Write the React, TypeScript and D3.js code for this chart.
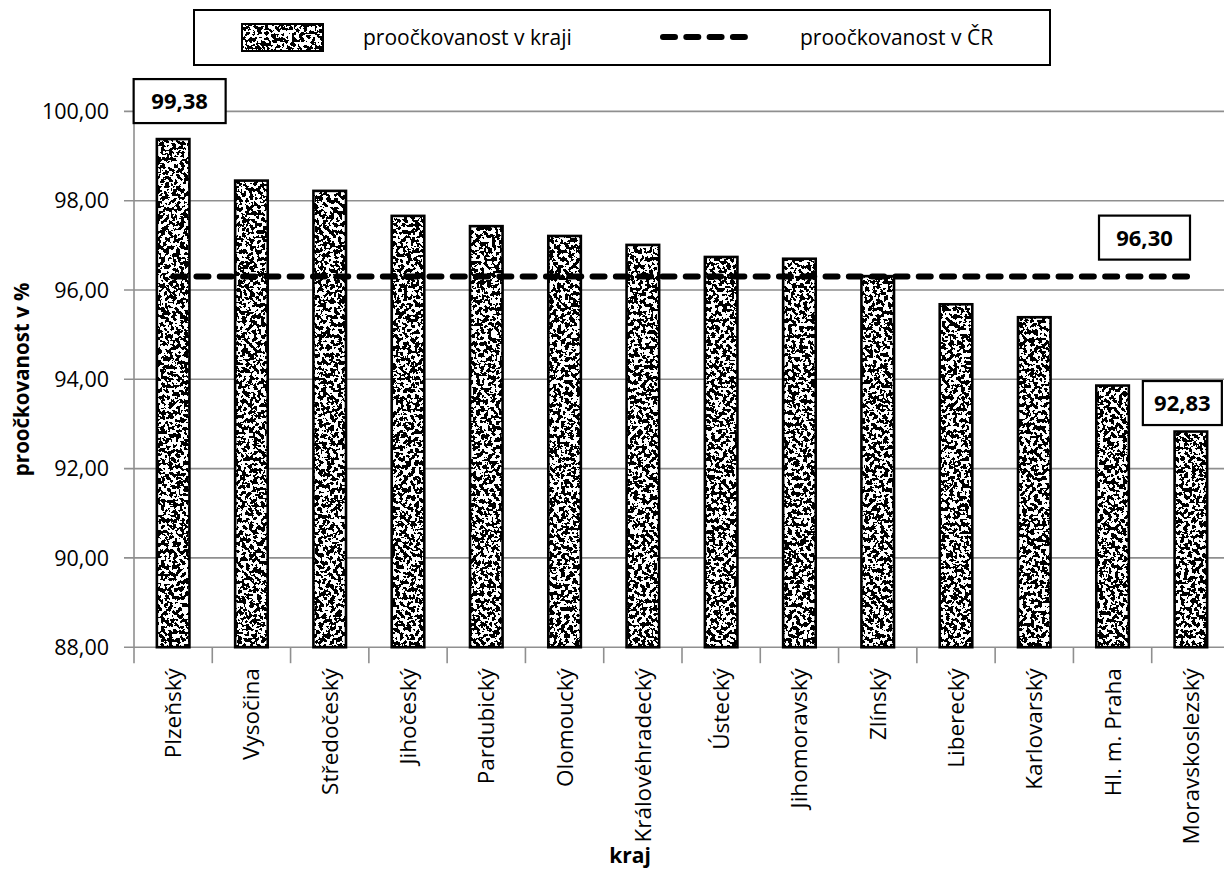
import React from "react";
import * as d3 from "d3";

const categories = [
  "Plzeňský", "Vysočina", "Středočeský", "Jihočeský", "Pardubický", "Olomoucký",
  "Královéhradecký", "Ústecký", "Jihomoravský", "Zlínský", "Liberecký",
  "Karlovarský", "Hl. m. Praha", "Moravskoslezský",
];
const regionValues = [99.38, 98.45, 98.22, 97.66, 97.43, 97.21, 97.01, 96.74, 96.7, 96.31, 95.68, 95.39, 93.86, 92.83];
const nationalValue = 96.3;
const yTicks = [88, 90, 92, 94, 96, 98, 100];
const legendLabels = ["proočkovanost v kraji", "proočkovanost v ČR"];
const yTitle = "proočkovanost v %";
const xTitle = "kraj";

const W = 1224, H = 870;
const left = 134, right = 1230, top = 111.4, bottom = 647.2;
const FONT = "'Open Sans', 'Noto Sans', sans-serif";
const fmt = (v: number) => d3.format(".2f")(v).replace(".", ",");

export default function App() {
  const x = d3.scaleBand<string>().domain(categories).range([left, right]).paddingInner(0.584).paddingOuter(0.292);
  const y = d3.scaleLinear().domain([88, 100]).range([bottom, top]);
  const step = x.step();
  const bw = x.bandwidth();
  const grid = "#8f8f8f";
  const first = categories[0];
  const last = categories[categories.length - 1];
  const cx = (c: string) => (x(c) as number) + bw / 2;

  const boxes = [
    { label: fmt(regionValues[0]), cx: cx(first) + 6.5, bottomY: y(regionValues[0]) - 16, w: 92 },
    { label: fmt(nationalValue), cx: 1144.5, bottomY: y(nationalValue) - 17, w: 91 },
    { label: fmt(regionValues[regionValues.length - 1]), cx: cx(last) - 8.5, bottomY: y(regionValues[regionValues.length - 1]) - 6.5, w: 79 },
  ];

  return (
    <svg width={W} height={H} style={{ position: "absolute", left: 0, top: 0, background: "#fff" }} fontFamily={FONT}>
      <defs>
        <filter id="speckle" x="0" y="0" width="1" height="1" filterUnits="objectBoundingBox" colorInterpolationFilters="sRGB">
          <feTurbulence type="fractalNoise" baseFrequency="0.26" numOctaves="2" seed="7" result="noise" />
          <feColorMatrix in="noise" type="matrix" values="1 0 0 0 0  1 0 0 0 0  1 0 0 0 0  0 0 0 0 1" result="gray" />
          <feComponentTransfer in="gray" result="bw">
            <feFuncR type="discrete" tableValues="0 1" />
            <feFuncG type="discrete" tableValues="0 1" />
            <feFuncB type="discrete" tableValues="0 1" />
          </feComponentTransfer>
          <feComposite in="bw" in2="SourceGraphic" operator="in" />
        </filter>
      </defs>

      {/* legend */}
      <rect x={194} y={10} width={856} height={55} fill="#fff" stroke="#000" strokeWidth={2} />
      <rect x={242} y={24} width={81} height={27} fill="#fff" filter="url(#speckle)" />
      <rect x={242} y={24} width={81} height={27} fill="none" stroke="#000" strokeWidth={2} />
      <text x={363} y={45} fontSize={21}>{legendLabels[0]}</text>
      <line x1={663} x2={745} y1={37} y2={37} stroke="#000" strokeWidth={6} strokeDasharray="12 11.3" strokeLinecap="round" />
      <text x={800} y={45} fontSize={21}>{legendLabels[1]}</text>

      {/* gridlines */}
      {yTicks.map((t) => (
        <g key={t}>
          <line x1={left - 10} x2={right} y1={y(t)} y2={y(t)} stroke={grid} strokeWidth={1.6} />
          <text x={109} y={y(t)} dy="0.36em" textAnchor="end" fontSize={21.5}>{fmt(t)}</text>
        </g>
      ))}
      <line x1={left} x2={left} y1={top} y2={bottom + 16} stroke={grid} strokeWidth={1.6} />
      {categories.map((c, i) => (
        <line key={c} x1={left + (i + 1) * step} x2={left + (i + 1) * step} y1={bottom} y2={bottom + 16} stroke={grid} strokeWidth={1.6} />
      ))}

      {/* bars */}
      {categories.map((c, i) => {
        const v = regionValues[i];
        const bx = x(c) as number;
        return (
          <g key={c}>
            <rect x={bx} y={y(v)} width={bw} height={y(88) - y(v)} fill="#fff" filter="url(#speckle)" />
            <rect x={bx} y={y(v)} width={bw} height={y(88) - y(v)} fill="none" stroke="#000" strokeWidth={2.6} />
          </g>
        );
      })}

      {/* national line */}
      <line x1={cx(first)} x2={cx(last)} y1={y(nationalValue)} y2={y(nationalValue)} stroke="#000" strokeWidth={6} strokeDasharray="12 11.3" strokeLinecap="round" />

      {/* value boxes */}
      {boxes.map((b) => (
        <g key={b.label}>
          <rect x={b.cx - b.w / 2} y={b.bottomY - 44} width={b.w} height={44} fill="#fff" stroke="#000" strokeWidth={2.2} />
          <text x={b.cx} y={b.bottomY - 22} dy="0.36em" textAnchor="middle" fontSize={22} fontWeight="bold">{b.label}</text>
        </g>
      ))}

      {/* x labels */}
      {categories.map((c) => (
        <text key={c} transform={`translate(${cx(c) + 8},${bottom + 21}) rotate(-90)`} textAnchor="end" fontSize={22.5}>{c}</text>
      ))}

      {/* axis titles */}
      <text transform={`translate(29,${(top + bottom) / 2 + 0}) rotate(-90)`} textAnchor="middle" fontSize={20.5} fontWeight="bold">{yTitle}</text>
      <text x={630} y={863} textAnchor="middle" fontSize={21} fontWeight="bold">{xTitle}</text>
    </svg>
  );
}
